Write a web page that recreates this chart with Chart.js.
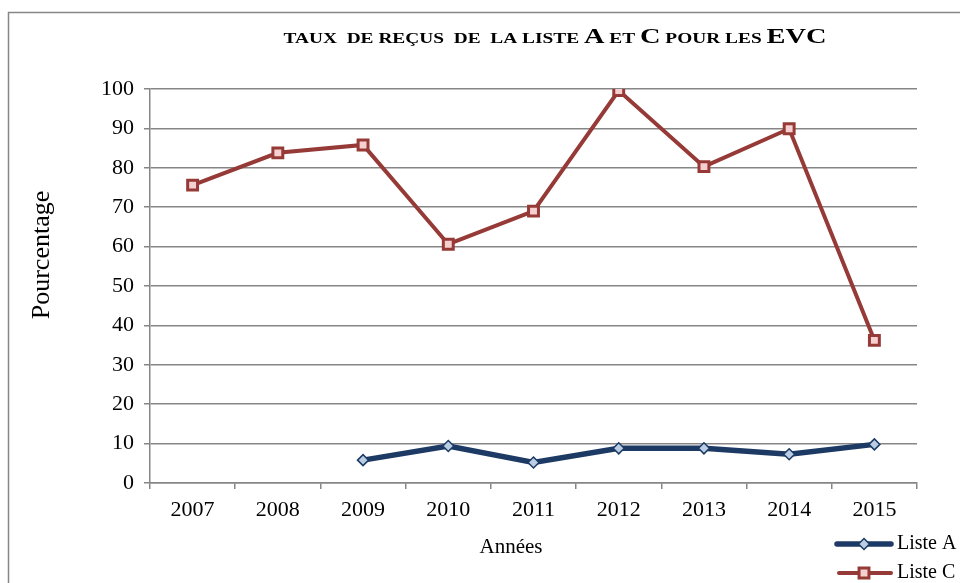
<!DOCTYPE html>
<html lang="fr">
<head>
  <meta charset="UTF-8" />
  <title>Taux de reçus de la liste A et C</title>
  <script src="https://cdn.jsdelivr.net/npm/chart.js"></script>
  <style>
    html, body {
      margin: 0;
      padding: 0;
      background: #fff;
      overflow: hidden;
    }
    .wrap {
      position: relative;
      width: 960px;
      height: 583px;
    }
  </style>
</head>
<body>

  <div class="wrap">
    <canvas id="evcChart"></canvas>
  </div>

  <script>
    const annees = ['2007', '2008', '2009', '2010', '2011', '2012', '2013', '2014', '2015'];
    const listeA = [null, null, 5.8, 9.4, 5.2, 8.8, 8.8, 7.3, 9.8];
    const listeC = [75.6, 83.8, 85.8, 60.6, 69.0, 99.6, 80.3, 89.9, 36.2];
    const yTicks = [0, 10, 20, 30, 40, 50, 60, 70, 80, 90, 100];

    // title pieces: small caps words and full capitals
    const titleParts = [
      ['TAUX  DE REÇUS  DE  LA LISTE ', 'small'],
      ['A', 'big'],
      [' ET ', 'small'],
      ['C', 'big'],
      [' POUR LES ', 'small'],
      ['EVC', 'big']
    ];

    const SERIF = '"Liberation Serif", "Times New Roman", serif';
    const GRID = '#868686';

    function drawTitle(ctx, cx, cy, width) {
      const fonts = {
        small: 'bold 15px ' + SERIF,
        big: 'bold 22px ' + SERIF
      };
      let natural = 0;
      titleParts.forEach(p => {
        ctx.font = fonts[p[1]];
        natural += ctx.measureText(p[0]).width;
      });
      const sx = width / natural;
      ctx.save();
      ctx.translate(cx - width / 2, cy);
      ctx.scale(sx, 1);
      ctx.textAlign = 'left';
      ctx.textBaseline = 'alphabetic';
      let x = 0;
      titleParts.forEach(p => {
        ctx.font = fonts[p[1]];
        ctx.fillText(p[0], x, 0);
        x += ctx.measureText(p[0]).width;
      });
      ctx.restore();
    }

    // frame, titles and the legend are drawn by hand
    const decorations = {
      id: 'decorations',
      beforeDraw(chart) {
        const ctx = chart.ctx;
        ctx.save();
        ctx.strokeStyle = GRID;
        ctx.lineWidth = 1.5;
        ctx.strokeRect(8.5, 12.5, 2000, 2000);
        ctx.restore();
      },
      afterDraw(chart) {
        const ctx = chart.ctx;
        ctx.save();
        ctx.fillStyle = '#000';

        drawTitle(ctx, 555, 43, 543);

        ctx.textBaseline = 'middle';
        ctx.textAlign = 'center';
        ctx.font = '21px ' + SERIF;
        ctx.fillText('Années', 511, 547);

        ctx.save();
        ctx.translate(42, 255);
        ctx.rotate(-Math.PI / 2);
        ctx.font = '26px ' + SERIF;
        ctx.fillText('Pourcentage', 0, 0);
        ctx.restore();

        // legend
        const rows = [
          { ds: chart.data.datasets[0], y: 544, x0: 837 },
          { ds: chart.data.datasets[1], y: 573, x0: 839 }
        ];
        rows.forEach(r => {
          ctx.strokeStyle = r.ds.borderColor;
          ctx.lineWidth = r.ds.borderWidth;
          ctx.lineCap = 'round';
          ctx.beginPath();
          ctx.moveTo(r.x0, r.y);
          ctx.lineTo(891, r.y);
          ctx.stroke();
          ctx.fillStyle = r.ds.pointBackgroundColor;
          ctx.strokeStyle = r.ds.pointBorderColor;
          ctx.lineWidth = r.ds.pointBorderWidth;
          Chart.helpers.drawPoint(ctx, {
            pointStyle: r.ds.pointStyle,
            radius: r.ds.pointRadius,
            borderWidth: r.ds.pointBorderWidth,
            rotation: 0
          }, 864, r.y);
          ctx.fillStyle = '#000';
          ctx.textAlign = 'left';
          ctx.font = '20px ' + SERIF;
          ctx.fillText(r.ds.label, 897, r.y);
        });
        ctx.restore();
      }
    };

    new Chart(document.getElementById('evcChart'), {
      type: 'line',
      data: {
        labels: annees,
        datasets: [
          {
            label: 'Liste A',
            data: listeA,
            borderColor: '#1c3a63',
            borderWidth: 5.5,
            pointStyle: 'rectRot',
            pointRadius: 5.5,
            pointBorderWidth: 1.5,
            pointBackgroundColor: '#b9cde5',
            pointBorderColor: '#1c3a63',
            tension: 0,
            spanGaps: false
          },
          {
            label: 'Liste C',
            data: listeC,
            borderColor: '#963a37',
            borderWidth: 4,
            pointStyle: 'rect',
            pointRadius: 7,
            pointBorderWidth: 3,
            pointBackgroundColor: '#f6d0d0',
            pointBorderColor: '#963a37',
            tension: 0
          }
        ]
      },
      options: {
        responsive: true,
        maintainAspectRatio: false,
        animation: false,
        events: [],
        layout: {
          padding: { top: 89, right: 43, left: 0, bottom: 0 }
        },
        plugins: {
          legend: { display: false },
          title: { display: false },
          tooltip: { enabled: false }
        },
        scales: {
          x: {
            offset: true,
            afterFit(scale) { scale.height = 100; },
            grid: {
              offset: true,
              drawOnChartArea: false,
              drawTicks: true,
              tickLength: 6,
              color: GRID,
              lineWidth: 1.5
            },
            border: { color: GRID, width: 1.5 },
            ticks: {
              color: '#000',
              padding: 8,
              font: { family: SERIF, size: 22 }
            }
          },
          y: {
            min: 0,
            max: 100,
            afterFit(scale) { scale.width = 150; },
            afterBuildTicks(scale) {
              scale.ticks = yTicks.map(v => ({ value: v }));
            },
            grid: {
              color: GRID,
              lineWidth: 1.5,
              tickLength: 6
            },
            border: { color: GRID, width: 1.5 },
            ticks: {
              color: '#000',
              padding: 10,
              font: { family: SERIF, size: 22 }
            }
          }
        }
      },
      plugins: [decorations]
    });
  </script>

</body>
</html>
